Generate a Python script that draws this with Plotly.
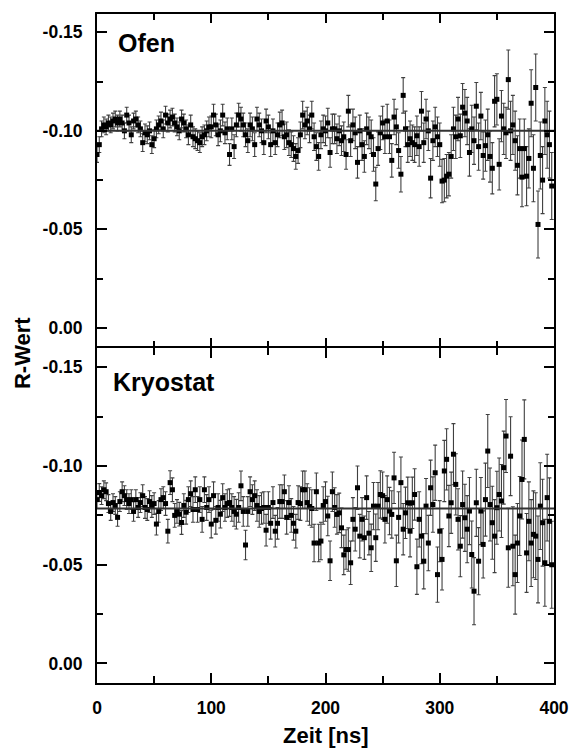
import plotly.graph_objects as go

# ---------------- data ----------------
time_ns = list(range(0, 400, 2))  # sampling grid of the measurement, ns

r_ofen = [
    -0.088, -0.093, -0.101, -0.103, -0.102, -0.104, -0.103, -0.105, -0.106, -0.104,
    -0.106, -0.104, -0.100, -0.108, -0.104, -0.098, -0.105, -0.106, -0.103, -0.101,
    -0.094, -0.099, -0.098, -0.100, -0.093, -0.096, -0.101, -0.103, -0.105, -0.101,
    -0.108, -0.104, -0.106, -0.107, -0.104, -0.102, -0.100, -0.106, -0.104, -0.101,
    -0.098, -0.103, -0.097, -0.096, -0.095, -0.094, -0.097, -0.098, -0.100, -0.102,
    -0.102, -0.108, -0.103, -0.098, -0.100, -0.108, -0.099, -0.101, -0.088, -0.101,
    -0.092, -0.103, -0.108, -0.106, -0.103, -0.098, -0.095, -0.103, -0.101, -0.093,
    -0.106, -0.103, -0.100, -0.094, -0.105, -0.102, -0.093, -0.100, -0.094, -0.098,
    -0.103, -0.104, -0.097, -0.098, -0.094, -0.093, -0.091, -0.087, -0.090, -0.098,
    -0.108, -0.103, -0.105, -0.101, -0.108, -0.097, -0.092, -0.087, -0.098, -0.101,
    -0.100, -0.104, -0.089, -0.101, -0.101, -0.096, -0.100, -0.095, -0.097, -0.088,
    -0.110, -0.095, -0.103, -0.099, -0.084, -0.100, -0.093, -0.087, -0.101, -0.099,
    -0.097, -0.088, -0.073, -0.091, -0.099, -0.104, -0.097, -0.105, -0.097, -0.085,
    -0.107, -0.102, -0.090, -0.078, -0.118, -0.101, -0.093, -0.096, -0.094, -0.093,
    -0.0975, -0.092, -0.110, -0.094, -0.106, -0.100, -0.076, -0.095, -0.102, -0.097,
    -0.093, -0.0745, -0.075, -0.077, -0.078, -0.087, -0.101, -0.097, -0.106, -0.0975,
    -0.112, -0.109, -0.105, -0.089, -0.101, -0.095, -0.1125, -0.092, -0.1075, -0.0875,
    -0.0925, -0.098, -0.087, -0.081, -0.115, -0.116, -0.083, -0.1075, -0.101, -0.099,
    -0.126, -0.100, -0.103, -0.095, -0.0825, -0.091, -0.0765, -0.091, -0.077, -0.086,
    -0.114, -0.081, -0.122, -0.0525, -0.0875, -0.075, -0.105, -0.098, -0.093, -0.072,
]

err_ofen = [
    0.004, 0.004, 0.004, 0.004, 0.004, 0.004, 0.004, 0.004, 0.004, 0.004,
    0.004, 0.004, 0.004, 0.004, 0.004, 0.004, 0.004, 0.004, 0.004, 0.004,
    0.0045, 0.0045, 0.0045, 0.0045, 0.0045, 0.0045, 0.0045, 0.0045, 0.0045, 0.0045,
    0.0045, 0.0045, 0.0045, 0.0045, 0.0045, 0.0045, 0.0045, 0.0045, 0.0045, 0.0045,
    0.005, 0.005, 0.005, 0.005, 0.005, 0.005, 0.005, 0.005, 0.005, 0.005,
    0.0055, 0.0055, 0.0055, 0.0055, 0.0055, 0.0055, 0.0055, 0.0055, 0.0055, 0.0055,
    0.006, 0.006, 0.006, 0.006, 0.006, 0.006, 0.006, 0.006, 0.006, 0.006,
    0.006, 0.006, 0.006, 0.006, 0.006, 0.006, 0.006, 0.006, 0.006, 0.006,
    0.0065, 0.0065, 0.0065, 0.0065, 0.0065, 0.0065, 0.0065, 0.0065, 0.0065, 0.0065,
    0.007, 0.007, 0.007, 0.007, 0.007, 0.007, 0.007, 0.007, 0.007, 0.007,
    0.0075, 0.0075, 0.0075, 0.0075, 0.0075, 0.0075, 0.0075, 0.0075, 0.0075, 0.0075,
    0.008, 0.008, 0.008, 0.008, 0.008, 0.008, 0.008, 0.008, 0.008, 0.008,
    0.0085, 0.0085, 0.0085, 0.0085, 0.0085, 0.0085, 0.0085, 0.0085, 0.0085, 0.0085,
    0.009, 0.009, 0.009, 0.009, 0.009, 0.009, 0.009, 0.009, 0.009, 0.009,
    0.010, 0.010, 0.010, 0.010, 0.010, 0.010, 0.010, 0.010, 0.010, 0.010,
    0.011, 0.011, 0.011, 0.011, 0.011, 0.011, 0.011, 0.011, 0.011, 0.011,
    0.012, 0.012, 0.012, 0.012, 0.012, 0.012, 0.012, 0.012, 0.012, 0.012,
    0.013, 0.013, 0.013, 0.013, 0.013, 0.013, 0.013, 0.013, 0.013, 0.013,
    0.015, 0.015, 0.015, 0.015, 0.015, 0.015, 0.015, 0.015, 0.015, 0.015,
    0.017, 0.017, 0.017, 0.017, 0.017, 0.017, 0.017, 0.017, 0.017, 0.017,
]

r_kryo = [
    -0.083, -0.0866, -0.085, -0.088, -0.087, -0.081, -0.077, -0.0815, -0.080, -0.074,
    -0.082, -0.087, -0.085, -0.083, -0.081, -0.083, -0.077, -0.083, -0.079, -0.0815,
    -0.085, -0.079, -0.078, -0.082, -0.0795, -0.081, -0.0706, -0.077, -0.083, -0.084,
    -0.081, -0.067, -0.0916, -0.088, -0.075, -0.077, -0.0756, -0.0714, -0.080, -0.0766,
    -0.083, -0.086, -0.078, -0.088, -0.078, -0.083, -0.073, -0.088, -0.079, -0.083,
    -0.0706, -0.085, -0.0725, -0.079, -0.0756, -0.084, -0.079, -0.081, -0.0815, -0.079,
    -0.077, -0.0756, -0.079, -0.090, -0.077, -0.060, -0.077, -0.087, -0.083, -0.085,
    -0.080, -0.077, -0.0785, -0.079, -0.0675, -0.079, -0.071, -0.0815, -0.067, -0.071,
    -0.082, -0.082, -0.087, -0.074, -0.0815, -0.075, -0.071, -0.067, -0.0815, -0.081,
    -0.088, -0.088, -0.0815, -0.0795, -0.0785, -0.061, -0.087, -0.061, -0.062, -0.080,
    -0.082, -0.0747, -0.052, -0.087, -0.079, -0.0755, -0.0763, -0.0687, -0.055, -0.0577,
    -0.0577, -0.051, -0.073, -0.068, -0.089, -0.0645, -0.073, -0.0637, -0.084, -0.066,
    -0.0586, -0.0797, -0.0637, -0.0797, -0.0856, -0.085, -0.073, -0.083, -0.0772, -0.0755,
    -0.094, -0.052, -0.074, -0.0916, -0.068, -0.0763, -0.0814, -0.067, -0.0814, -0.0856,
    -0.049, -0.073, -0.0645, -0.0518, -0.0797, -0.061, -0.089, -0.0805, -0.0966, -0.045,
    -0.067, -0.0527, -0.0975, -0.1034, -0.0747, -0.0814, -0.106, -0.0907, -0.073, -0.0594,
    -0.0805, -0.0738, -0.068, -0.0772, -0.0552, -0.0366, -0.0814, -0.0518, -0.0772, -0.0603,
    -0.083, -0.1076, -0.0805, -0.0713, -0.0645, -0.0789, -0.0856, -0.0823, -0.0992, -0.1152,
    -0.0586, -0.105, -0.0594, -0.045, -0.061, -0.0747, -0.0932, -0.1135, -0.056, -0.072,
    -0.061, -0.0654, -0.0645, -0.0527, -0.0797, -0.0713, -0.051, -0.084, -0.072, -0.050,
]

err_kryo = [
    0.0045, 0.0045, 0.0045, 0.0045, 0.0045, 0.0045, 0.0045, 0.0045, 0.0045, 0.0045,
    0.005, 0.005, 0.005, 0.005, 0.005, 0.005, 0.005, 0.005, 0.005, 0.005,
    0.0055, 0.0055, 0.0055, 0.0055, 0.0055, 0.0055, 0.0055, 0.0055, 0.0055, 0.0055,
    0.006, 0.006, 0.006, 0.006, 0.006, 0.006, 0.006, 0.006, 0.006, 0.006,
    0.0065, 0.0065, 0.0065, 0.0065, 0.0065, 0.0065, 0.0065, 0.0065, 0.0065, 0.0065,
    0.007, 0.007, 0.007, 0.007, 0.007, 0.007, 0.007, 0.007, 0.007, 0.007,
    0.0075, 0.0075, 0.0075, 0.0075, 0.0075, 0.0075, 0.0075, 0.0075, 0.0075, 0.0075,
    0.008, 0.008, 0.008, 0.008, 0.008, 0.008, 0.008, 0.008, 0.008, 0.008,
    0.0085, 0.0085, 0.0085, 0.0085, 0.0085, 0.0085, 0.0085, 0.0085, 0.0085, 0.0085,
    0.0095, 0.0095, 0.0095, 0.0095, 0.0095, 0.0095, 0.0095, 0.0095, 0.0095, 0.0095,
    0.010, 0.010, 0.010, 0.010, 0.010, 0.010, 0.010, 0.010, 0.010, 0.010,
    0.011, 0.011, 0.011, 0.011, 0.011, 0.011, 0.011, 0.011, 0.011, 0.011,
    0.012, 0.012, 0.012, 0.012, 0.012, 0.012, 0.012, 0.012, 0.012, 0.012,
    0.013, 0.013, 0.013, 0.013, 0.013, 0.013, 0.013, 0.013, 0.013, 0.013,
    0.014, 0.014, 0.014, 0.014, 0.014, 0.014, 0.014, 0.014, 0.014, 0.014,
    0.0155, 0.0155, 0.0155, 0.0155, 0.0155, 0.0155, 0.0155, 0.0155, 0.0155, 0.0155,
    0.017, 0.017, 0.017, 0.017, 0.017, 0.017, 0.017, 0.017, 0.017, 0.017,
    0.0185, 0.0185, 0.0185, 0.0185, 0.0185, 0.0185, 0.0185, 0.0185, 0.0185, 0.0185,
    0.020, 0.020, 0.020, 0.020, 0.020, 0.020, 0.020, 0.020, 0.020, 0.020,
    0.022, 0.022, 0.022, 0.022, 0.022, 0.022, 0.022, 0.022, 0.022, 0.022,
]

fit_x = [0, 400]
fit_ofen = [-0.100, -0.100]
fit_kryo = [-0.0785, -0.0785]

y_tickvals = [-0.15, -0.10, -0.05, 0.00]
y_ticktext = ["-0.15", "-0.10", "-0.05", "0.00"]
x_tickvals = [0, 100, 200, 300, 400]
x_ticktext = ["0", "100", "200", "300", "400"]
panel_labels = ["Ofen", "Kryostat"]

# ---------------- figure ----------------
FONT = "Liberation Sans, Arial, sans-serif"
PLOT_W = 581 - 97 - 16

fig = go.Figure()

def add_panel(yvals, errs, fit, xa, ya):
    fig.add_trace(go.Scatter(
        x=time_ns, y=yvals, mode="markers", xaxis=xa, yaxis=ya,
        marker=dict(symbol="square", size=5, color="black", line=dict(width=0)),
        error_y=dict(type="data", array=errs, visible=True,
                     color="#404040", thickness=1.1, width=2),
        showlegend=False, hoverinfo="skip"))
    fig.add_trace(go.Scatter(
        x=fit_x, y=fit, mode="lines", xaxis=xa, yaxis=ya,
        line=dict(color="#333333", width=2), showlegend=False, hoverinfo="skip"))

add_panel(r_ofen, err_ofen, fit_ofen, "x", "y")
add_panel(r_kryo, err_kryo, fit_kryo, "x2", "y2")

tick_x = dict(ticks="inside", ticklen=10, tickwidth=1.5, tickcolor="black",
              tickmode="array", tickvals=x_tickvals, ticktext=x_ticktext,
              minor=dict(tickmode="linear", tick0=0, dtick=50, ticks="inside",
                         ticklen=7, tickwidth=1.5, tickcolor="black"),
              tickfont=dict(family=FONT, size=17.5, color="black", weight="bold"))
common_y = dict(showgrid=False, zeroline=False,
                showline=True, linewidth=2, linecolor="black", mirror="ticks",
                ticks="inside", ticklen=10, tickwidth=1.5, tickcolor="black",
                tickmode="array", tickvals=y_tickvals, ticktext=y_ticktext,
                minor=dict(tickmode="linear", tick0=0, dtick=0.025, ticks="inside",
                           ticklen=6, tickwidth=1.5, tickcolor="black"),
                ticklabelstandoff=9,
                tickfont=dict(family=FONT, size=17.5, color="black", weight="bold"))

fig.update_layout(
    width=581, height=749,
    margin=dict(l=97, r=16, t=13, b=66),
    paper_bgcolor="white", plot_bgcolor="white",
    font=dict(family=FONT, color="black"),
    # top panel: ticks only (no own line) so the shared boundary is one line
    xaxis=dict(tick_x, anchor="y", domain=[0, 1], range=[0, 400],
               showgrid=False, zeroline=False, showline=False, mirror="ticks",
               showticklabels=False),
    xaxis2=dict(tick_x, anchor="y2", domain=[0, 1], range=[0, 400], matches="x",
                showgrid=False, zeroline=False, showline=True, linewidth=2,
                linecolor="black", mirror="ticks", ticklabelstandoff=8),
    yaxis=dict(common_y, anchor="x", domain=[0.5, 1], range=[0.0102, -0.1598]),
    yaxis2=dict(common_y, anchor="x2", domain=[0, 0.5], range=[0.0099, -0.1598]),
)

# top frame line of the upper panel
fig.add_shape(type="line", xref="paper", yref="y domain",
              x0=-2.0 / PLOT_W, x1=1 + 2.0 / PLOT_W, y0=1, y1=1,
              line=dict(color="black", width=2), layer="above")

fig.add_annotation(text=panel_labels[0], xref="x", yref="y", x=16.5, y=-0.1444,
                   xanchor="left", yanchor="middle", showarrow=False,
                   font=dict(family=FONT, size=25, color="black", weight="bold"))
fig.add_annotation(text=panel_labels[1], xref="x2", yref="y2", x=12.3, y=-0.1425,
                   xanchor="left", yanchor="middle", showarrow=False,
                   font=dict(family=FONT, size=25, color="black", weight="bold"))
fig.add_annotation(text="R-Wert", xref="paper", yref="paper", x=-0.164, y=0.4925,
                   xanchor="center", yanchor="middle", textangle=-90, showarrow=False,
                   font=dict(family=FONT, size=22, color="black", weight="bold"))
fig.add_annotation(text="Zeit [ns]", xref="paper", yref="paper", x=0.5, y=-0.0789,
                   xanchor="center", yanchor="middle", showarrow=False,
                   font=dict(family=FONT, size=22, color="black", weight="bold"))

fig.write_html("out.html")
